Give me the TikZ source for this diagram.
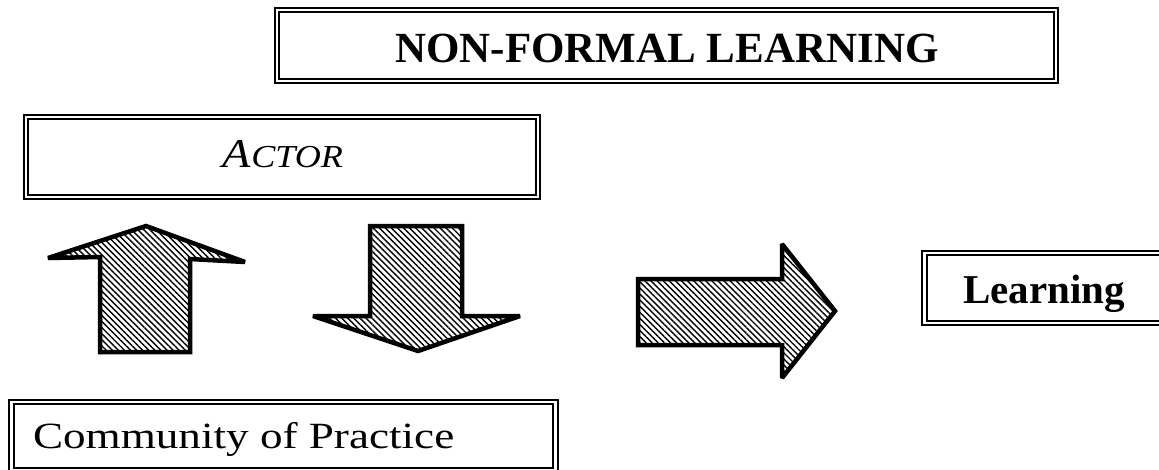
\documentclass[tikz,border=0pt]{standalone}
\usepackage{fontspec}
\setmainfont{Liberation Serif}
\usepackage{graphicx}
\usetikzlibrary{patterns.meta}
\tikzset{
  framebox/.style={draw=black, line width=2.6pt, inner sep=0pt, rectangle},
  innerline/.style={draw=black, line width=1.7pt},
  label/.style={inner sep=0pt, outer sep=0pt},
  blockarrow/.style={draw=black, line width=4.5pt, line join=miter, miter limit=3,
    pattern={Lines[angle=-45,distance=4.3pt,line width=1.4pt]}}
}
\begin{document}
\begin{tikzpicture}[x=1pt,y=-1pt]
\fill[white] (0,0) rectangle (1159,469);
\clip (0,0) rectangle (1159,469);

% boxes
\node[framebox, minimum width=783pt, minimum height=75pt] (nfl) at (666.5,45.5) {};
\draw[innerline] ([shift={(5.5,5.5)}]nfl.north west) rectangle ([shift={(-5.5,-5.5)}]nfl.south east);
\node[label, anchor=base] (nfltext) at (667,62) {\fontsize{43}{43}\selectfont\bfseries NON-FORMAL LEARNING};

\node[framebox, minimum width=516pt, minimum height=84pt] (actor) at (282,157) {};
\draw[innerline] ([shift={(5.5,5.5)}]actor.north west) rectangle ([shift={(-5.5,-5.5)}]actor.south east);
\node[label, anchor=base] (actortext) at (283,167) {\scalebox{1.13}[1]{\itshape\fontsize{41}{41}\selectfont A\fontsize{32}{32}\selectfont CTOR}};

\node[framebox, minimum width=549pt, minimum height=72pt] (cop) at (283.5,436) {};
\draw[innerline] ([shift={(6,5.5)}]cop.north west) rectangle ([shift={(-6,-5.5)}]cop.south east);
\node[label, anchor=base west] (coptext) at (33,448) {\scalebox{1.22}[1]{\fontsize{37}{37}\selectfont Community of Practice}};

\node[framebox, minimum width=244pt, minimum height=74pt] (learn) at (1044,288) {};
\draw[innerline] ([shift={(6,5.5)}]learn.north west) rectangle ([shift={(-6,-5.5)}]learn.south east);
\node[label, anchor=base] (learntext) at (1044,303) {\fontsize{41}{41}\selectfont\bfseries Learning};

% block arrows
\draw[blockarrow] (146,226) -- (245,262) -- (190,259) -- (190,352) -- (100,352) -- (100,257) -- (48,258) -- cycle;
\draw[blockarrow] (370,226) -- (462,226) -- (462,316) -- (520,316) -- (418,351) -- (313,316) -- (370,316) -- cycle;
\draw[blockarrow] (638,279) -- (782,279) -- (782,244) -- (835,311) -- (782,378) -- (782,345) -- (638,345) -- cycle;
\end{tikzpicture}
\end{document}
